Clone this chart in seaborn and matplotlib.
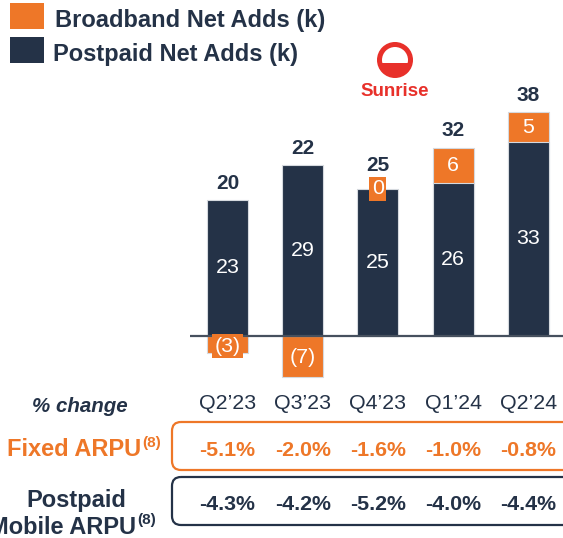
import numpy as np
import pandas as pd
import matplotlib
matplotlib.use("Agg")
import matplotlib.pyplot as plt
import matplotlib.transforms as mtransforms
from matplotlib.patches import Rectangle, Circle, FancyBboxPatch
import seaborn as sns

# data
quarters = ["Q2’23", "Q3’23", "Q4’23", "Q1’24", "Q2’24"]
postpaid_adds = [23, 29, 25, 26, 33]
broadband_adds = [-3, -7, 0, 6, 5]
fixed_arpu = ["-5.1%", "-2.0%", "-1.6%", "-1.0%", "-0.8%"]
mobile_arpu = ["-4.3%", "-4.2%", "-5.2%", "-4.0%", "-4.4%"]

ORANGE = "#EE7728"
NAVY = "#243247"
RED = "#E8302A"
LINE = "#46505E"

sns.set_style("white")
plt.rcParams["font.family"] = ["Liberation Sans", "DejaVu Sans"]

W, H = 563, 538
fig = plt.figure(figsize=(W / 100, H / 100), dpi=100)

# bar axes placed in pixel terms
left, right, top, bottom = 190, 563, 70, 390
ax = fig.add_axes([left / W, (H - bottom) / H, (right - left) / W, (bottom - top) / H])

df = pd.DataFrame({
    "quarter": quarters,
    "postpaid": postpaid_adds,
    "broadband": broadband_adds,
})
df["total"] = df["postpaid"] + df["broadband"]
# orange drawn first; navy on top gives the stacked look
df["orange_top"] = np.where(df["broadband"] > 0, df["total"], df["broadband"])

bar_kw = dict(width=0.545, saturation=1, edgecolor="#d5d9de", linewidth=0.8, errorbar=None, ax=ax)
sns.barplot(data=df, x="quarter", y="orange_top", color=ORANGE, **bar_kw)
sns.barplot(data=df, x="quarter", y="postpaid", color=NAVY, **bar_kw)

px_per_unit = 5.87
base_y = 335.5
ax.set_ylim(-(bottom - base_y) / px_per_unit, (base_y - top) / px_per_unit)
x0, step = 227.5, 75.2
ax.set_xlim((left - x0) / step, (right - x0) / step)
ax.axhline(0, color=LINE, lw=1.6, zorder=5)
sns.despine(ax=ax, left=True, bottom=True)
ax.set_xlabel("")
ax.set_ylabel("")
ax.set_yticks([])
ax.set_xticks(range(len(quarters)))
ax.set_xticklabels(quarters)
ax.tick_params(axis="x", length=0, pad=3, labelsize=15.4, labelcolor=NAVY)

for i, row in df.iterrows():
    p, b = row["postpaid"], row["broadband"]
    ax.text(i, p / 2, f"{p}", color="white", ha="center", va="center", fontsize=15.4, zorder=6)
    lab = f"({abs(b)})" if b < 0 else f"{b}"
    if b > 0:
        yb = p + b / 2
    elif b < 0:
        yb = b / 2 - 0.3
    else:
        yb = p
    box = dict(boxstyle="square,pad=0.12", fc=ORANGE, ec="none") if abs(b) < 4 else None
    ax.text(i, yb, lab, color="white", ha="center", va="center", fontsize=15.4, zorder=6, bbox=box)
    top_val = p + max(b, 0)
    ax.text(i, top_val + (4.0 if b == 0 else 2.9), f"{row['total']}", color=NAVY,
            ha="center", va="center", fontsize=15, fontweight="bold", zorder=6)

# overlay axes in pixel coords for legend, logo and table
ov = fig.add_axes([0, 0, 1, 1])
ov.set_xlim(0, W)
ov.set_ylim(H, 0)
ov.axis("off")

# legend
ov.add_patch(Rectangle((10, 3), 34, 26, fc=ORANGE, ec="none"))
ov.add_patch(Rectangle((10, 37), 34, 26, fc=NAVY, ec="none"))
ov.text(55, 20, "Broadband Net Adds (k)", fontsize=17, fontweight="bold", color=NAVY, va="center")
ov.text(53, 54, "Postpaid Net Adds (k)", fontsize=17, fontweight="bold", color=NAVY, va="center")

# logo
cx, cy = 395, 60
ov.add_patch(Circle((cx, cy), 15.5, fill=False, ec=RED, lw=3.6))
clip = Circle((cx, cy), 17, transform=ov.transData)
fill = Rectangle((cx - 20, 63), 40, 20, fc=RED, ec="none")
ov.add_patch(fill)
fill.set_clip_path(clip)
ov.text(cx, 91, "Sunrise", fontsize=13.5, fontweight="bold", color=RED, ha="center", va="center")

# table
blend = mtransforms.blended_transform_factory(ax.transData, ov.transData)
ov.text(80, 406, "% change", fontsize=14.8, fontweight="bold", style="italic", color=NAVY,
        ha="center", va="center")

ov.add_patch(FancyBboxPatch((172, 422), 420, 48, boxstyle="round,pad=0,rounding_size=9",
                            fc="none", ec=ORANGE, lw=1.6))
ov.add_patch(FancyBboxPatch((172, 477), 420, 48, boxstyle="round,pad=0,rounding_size=9",
                            fc="none", ec=NAVY, lw=1.6))

ov.text(141, 450, "Fixed ARPU", fontsize=17, fontweight="bold", color=ORANGE, ha="right", va="center")
ov.text(142, 443, "(8)", fontsize=11, fontweight="bold", color=ORANGE, ha="left", va="center")
ov.text(76, 500, "Postpaid", fontsize=17, fontweight="bold", color=NAVY, ha="center", va="center")
ov.text(136, 527, "Mobile ARPU", fontsize=17, fontweight="bold", color=NAVY, ha="right", va="center")
ov.text(137, 520, "(8)", fontsize=11, fontweight="bold", color=NAVY, ha="left", va="center")

for i in range(len(quarters)):
    ov.text(i, 450, fixed_arpu[i], transform=blend, fontsize=15.4, fontweight="bold",
            color=ORANGE, ha="center", va="center")
    ov.text(i, 504, mobile_arpu[i], transform=blend, fontsize=15.4, fontweight="bold",
            color=NAVY, ha="center", va="center")

fig.savefig("out.png", dpi=100)
